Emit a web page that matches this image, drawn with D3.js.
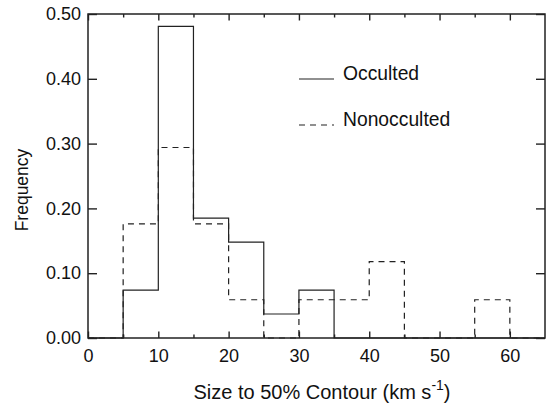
<!DOCTYPE html>
<html>
<head>
<meta charset="utf-8">
<script src="https://cdn.jsdelivr.net/npm/d3@7"></script>
<style>
  html, body { margin: 0; padding: 0; background: #fff; }
  svg { display: block; font-family: "Liberation Sans", Arial, Helvetica, sans-serif; }
</style>
</head>
<body>
<svg id="chart" width="546" height="405"></svg>
<script>
// Histogram bins (km s^-1), lower edges, width 5
const binStarts = [0, 5, 10, 15, 20, 25, 30, 35, 40, 45, 50, 55, 60];
const binWidth = 5;
// Fraction of sources per bin
const occulted    = [0, 0.074, 0.481, 0.185, 0.148, 0.037, 0.074, 0, 0, 0, 0, 0, 0];
const nonocculted = [0, 0.176, 0.294, 0.176, 0.059, 0, 0.059, 0.059, 0.118, 0, 0, 0.059, 0];
const xMajorTicks = [0, 10, 20, 30, 40, 50, 60];
const xMinorTicks = [5, 15, 25, 35, 45, 55];
const yTicks = [0, 0.1, 0.2, 0.3, 0.4, 0.5];
const seriesNames = ["Occulted", "Nonocculted"];

const svg = d3.select("#chart");
const plotLeft = 88, plotRight = 545, plotTop = 14, plotBottom = 338;

const x = d3.scaleLinear().domain([0, 65]).range([plotLeft, plotRight]);
const y = d3.scaleLinear().domain([0, 0.5]).range([plotBottom, plotTop]);

const fontSize = 18;

// Step outline through bin edges
function stepPoints(vals) {
  const pts = binStarts.map((b, i) => [b, vals[i]]);
  pts.push([binStarts[binStarts.length - 1] + binWidth, vals[vals.length - 1]]);
  return pts;
}
const line = d3.line()
  .x(d => x(d[0]))
  .y(d => y(d[1]))
  .curve(d3.curveStepAfter);

svg.append("path")
  .attr("d", line(stepPoints(nonocculted)))
  .attr("fill", "none")
  .attr("stroke", "#222")
  .attr("stroke-width", 1.2)
  .attr("stroke-dasharray", "6,5");

svg.append("path")
  .attr("d", line(stepPoints(occulted)))
  .attr("fill", "none")
  .attr("stroke", "#222")
  .attr("stroke-width", 1.2);

// Axes (ticks pointing inward)
function styleAxis(g) {
  g.select(".domain").remove();
  g.selectAll("line").attr("stroke", "#222").attr("stroke-width", 1.4);
  g.selectAll("text").attr("font-size", fontSize).attr("fill", "#111")
    .attr("font-family", "'Liberation Sans', Arial, sans-serif");
}

svg.append("g").attr("transform", `translate(0,${plotBottom})`)
  .call(d3.axisBottom(x).tickValues(xMajorTicks).tickFormat(d3.format("d"))
    .tickSizeInner(-6.5).tickSizeOuter(0).tickPadding(11))
  .call(styleAxis);
svg.append("g").attr("transform", `translate(0,${plotBottom})`)
  .call(d3.axisBottom(x).tickValues(xMinorTicks).tickFormat("")
    .tickSizeInner(-3.5).tickSizeOuter(0))
  .call(styleAxis);

svg.append("g").attr("transform", `translate(0,${plotTop})`)
  .call(d3.axisTop(x).tickValues(xMajorTicks).tickFormat("")
    .tickSizeInner(-6.5).tickSizeOuter(0))
  .call(styleAxis);
svg.append("g").attr("transform", `translate(0,${plotTop})`)
  .call(d3.axisTop(x).tickValues(xMinorTicks).tickFormat("")
    .tickSizeInner(-3.5).tickSizeOuter(0))
  .call(styleAxis);

svg.append("g").attr("transform", `translate(${plotLeft},0)`)
  .call(d3.axisLeft(y).tickValues(yTicks).tickFormat(d3.format(".2f"))
    .tickSizeInner(-9).tickSizeOuter(0).tickPadding(7))
  .call(styleAxis);
svg.append("g").attr("transform", `translate(${plotRight},0)`)
  .call(d3.axisRight(y).tickValues(yTicks).tickFormat("")
    .tickSizeInner(-9).tickSizeOuter(0))
  .call(styleAxis);

// Plot frame
svg.append("rect")
  .attr("x", plotLeft).attr("y", plotTop)
  .attr("width", plotRight - plotLeft).attr("height", plotBottom - plotTop)
  .attr("fill", "none").attr("stroke", "#222").attr("stroke-width", 1.5);

// Axis titles
const xTitle = svg.append("text")
  .attr("x", 322).attr("y", 399)
  .attr("text-anchor", "middle").attr("font-size", 20).attr("fill", "#111");
xTitle.append("tspan").text("Size to 50% Contour (km s");
xTitle.append("tspan").attr("font-size", 14).attr("dy", -9).text("-1");
xTitle.append("tspan").attr("dy", 9).text(")");

svg.append("text")
  .attr("transform", `translate(28,190) rotate(-90)`)
  .attr("text-anchor", "middle").attr("font-size", 17.5).attr("fill", "#111")
  .text("Frequency");

// Legend
const legend = svg.append("g");
[[79, null], [125, "6,5"]].forEach(([ly, dash], i) => {
  legend.append("line")
    .attr("x1", 299).attr("x2", 334).attr("y1", ly).attr("y2", ly)
    .attr("stroke", "#222").attr("stroke-width", 1.2)
    .attr("stroke-dasharray", dash);
  legend.append("text")
    .attr("x", 343).attr("y", ly + 1)
    .attr("font-size", 19.3).attr("fill", "#111")
    .text(seriesNames[i]);
});
</script>
</body>
</html>
